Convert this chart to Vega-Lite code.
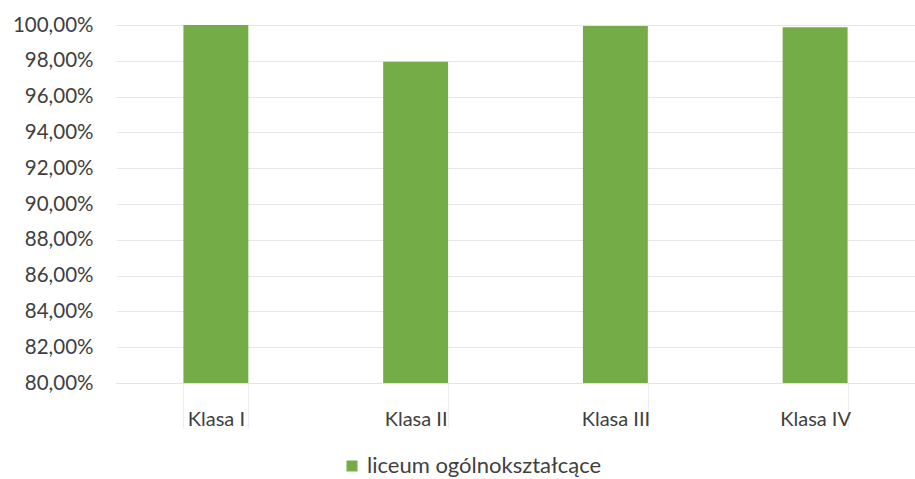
{
  "$schema": "https://vega.github.io/schema/vega-lite/v6.json",
  "width": 799,
  "height": 358,
  "autosize": "none",
  "padding": {"left": 116, "top": 25, "right": 0, "bottom": 96},
  "background": "white",
  "config": {
    "view": {"stroke": null},
    "font": "Lato"
  },
  "data": {
    "values": [
      {"klasa": "Klasa I", "wartosc": 1.0, "seria": "liceum ogólnokształcące"},
      {"klasa": "Klasa II", "wartosc": 0.9795, "seria": "liceum ogólnokształcące"},
      {"klasa": "Klasa III", "wartosc": 0.9994, "seria": "liceum ogólnokształcące"},
      {"klasa": "Klasa IV", "wartosc": 0.9987, "seria": "liceum ogólnokształcące"}
    ]
  },
  "mark": {"type": "bar"},
  "encoding": {
    "x": {
      "field": "klasa",
      "type": "nominal",
      "sort": null,
      "scale": {"paddingInner": 0.675, "paddingOuter": 0.3375},
      "axis": {
        "title": null,
        "labelAngle": 0,
        "labelFontSize": 20,
        "labelColor": "#404040",
        "domainColor": "#e3e3e3",
        "tickColor": "#eeeeee",
        "tickBand": "extent",
        "tickSize": 45,
        "labelPadding": -19,
        "grid": false
      }
    },
    "y": {
      "field": "wartosc",
      "type": "quantitative",
      "scale": {"domain": [0.8, 1.0], "zero": false, "nice": false},
      "axis": {
        "title": null,
        "values": [0.8, 0.82, 0.84, 0.86, 0.88, 0.9, 0.92, 0.94, 0.96, 0.98, 1.0],
        "labelExpr": "replace(format(datum.value, '.2%'), '.', ',')",
        "labelFontSize": 20.5,
        "labelColor": "#404040",
        "labelPadding": 23,
        "ticks": false,
        "domain": false,
        "gridColor": "#e6e6e6",
        "gridWidth": 1
      }
    },
    "y2": {"datum": 0.8},
    "color": {
      "field": "seria",
      "type": "nominal",
      "scale": {"range": ["#74ad48"]},
      "legend": {
        "title": null,
        "orient": "none",
        "legendX": 225,
        "legendY": 430,
        "symbolType": "square",
        "symbolSize": 121,
        "labelFontSize": 22,
        "labelColor": "#404040",
        "labelLimit": 400
      }
    }
  }
}
